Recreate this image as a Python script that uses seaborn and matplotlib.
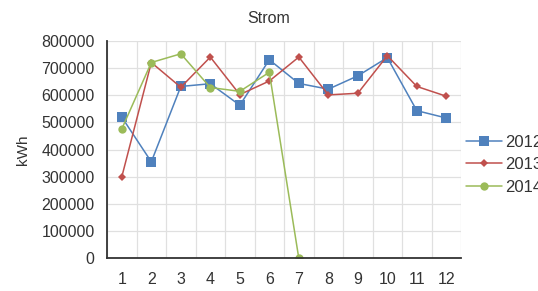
import numpy as np
import pandas as pd
import matplotlib
matplotlib.use("Agg")
import matplotlib.pyplot as plt
import seaborn as sns

# Monatswerte Strom (kWh)
monate = list(range(1, 13))
strom_2012 = [519000, 355000, 632000, 642000, 563000, 730000, 643000, 622000, 671000, 738000, 543000, 516000]
strom_2013 = [300000, 720000, 629000, 740000, 602000, 652000, 740000, 601000, 607000, 745000, 632000, 596000]
strom_2014 = [476000, 720000, 752000, 628000, 614000, 684000, 0]
jahre = ["2012", "2013", "2014"]

df = pd.concat([
    pd.DataFrame({"Monat": monate, "kWh": strom_2012, "Jahr": "2012"}),
    pd.DataFrame({"Monat": monate, "kWh": strom_2013, "Jahr": "2013"}),
    pd.DataFrame({"Monat": monate[:len(strom_2014)], "kWh": strom_2014, "Jahr": "2014"}),
])

sns.set_style("white")
plt.rcParams["font.family"] = ["Liberation Sans", "DejaVu Sans"]

farben = {"2012": "#4F81BD", "2013": "#C0504D", "2014": "#9BBB59"}
marker = {"2012": "s", "2013": "D", "2014": "o"}
groesse = {"2012": 6.5, "2013": 4.5, "2014": 6}

fig = plt.figure(figsize=(5.38, 2.91), dpi=100)
ax = fig.add_axes([0.199, 0.112, 0.658, 0.748])

sns.lineplot(data=df, x="Monat", y="kWh", hue="Jahr", style="Jahr", palette=farben,
             markers=marker, dashes=False, errorbar=None, linewidth=1.1,
             markeredgewidth=0, ax=ax, legend=False)
for linie, j in zip(ax.lines, jahre):
    linie.set_markersize(groesse[j])

ax.set_xlim(0.5, 12.5)
ax.set_ylim(0, 800000)
ax.set_xticks(np.arange(0.5, 13, 1))
ax.set_xticks(monate, minor=True)
ax.set_xticklabels([])
ax.set_xticklabels([str(m) for m in monate], minor=True)
ax.set_yticks(np.arange(0, 800001, 100000))
ax.set_yticklabels([str(v) for v in range(0, 800001, 100000)])

ax.tick_params(axis="x", which="major", direction="inout", length=8, width=1.2, color="#333333")
ax.tick_params(axis="x", which="minor", length=0, labelsize=11.5, pad=10, labelcolor="#333333")
ax.tick_params(axis="y", direction="out", length=7, width=1.2, color="#333333", labelsize=11.5,
               pad=2, labelcolor="#333333")

ax.grid(True, which="major", color="#e0e0e0", linewidth=0.9)
ax.set_axisbelow(True)
for s in ["top", "right"]:
    ax.spines[s].set_visible(False)
for s in ["left", "bottom"]:
    ax.spines[s].set_color("#333333")
    ax.spines[s].set_linewidth(1.3)

ax.set_xlabel("")
ax.set_ylabel("kWh", fontsize=11, labelpad=8, color="#333333")
fig.text(0.5, 0.935, "Strom", ha="center", va="center", fontsize=11.5, color="#333333")

handles = [plt.Line2D([], [], color=farben[j], marker=marker[j], markersize=groesse[j],
                      markeredgewidth=0, linewidth=1.1) for j in jahre]
fig.legend(handles, jahre, loc="upper left", bbox_to_anchor=(0.853, 0.56), frameon=False,
           borderaxespad=0, fontsize=12, handlelength=2.2, handletextpad=0.2,
           labelspacing=0.45, labelcolor="#333333")

fig.savefig("out.png", dpi=100)
